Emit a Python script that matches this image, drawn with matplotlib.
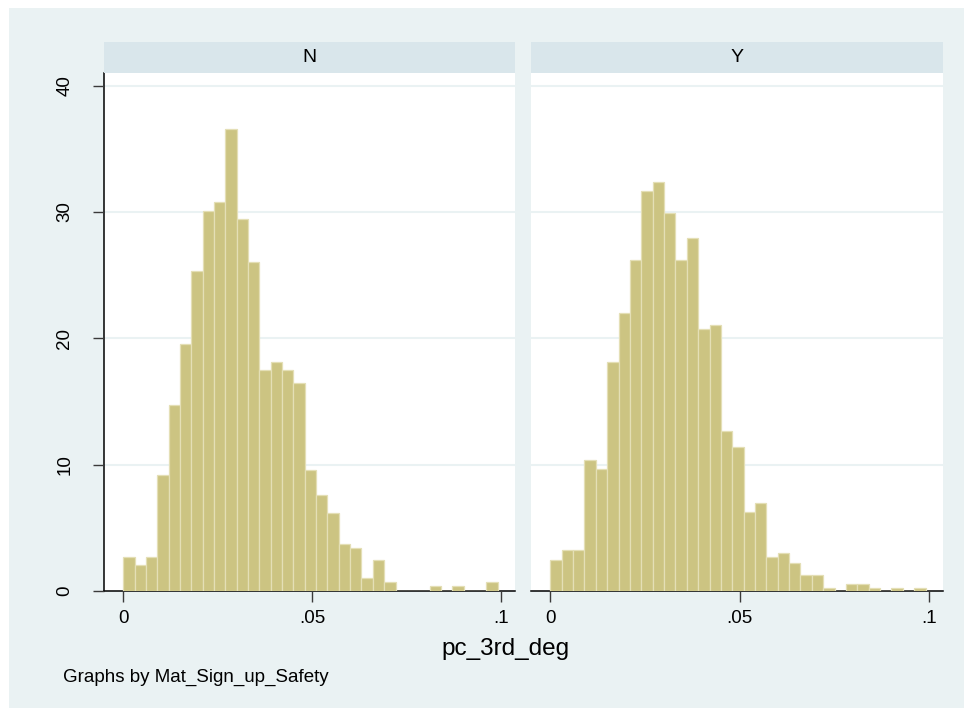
import matplotlib
matplotlib.use("Agg")
import matplotlib.pyplot as plt
from matplotlib.patches import Rectangle
import numpy as np

plt.rcParams['font.family'] = ['Liberation Sans', 'DejaVu Sans']

# Histogram densities of pc_3rd_deg by Mat_Sign_up_Safety
groups = ["N", "Y"]
bin_start = 0.0
bin_width = 0.003
density_N = [2.73, 2.04, 2.73, 9.22, 14.69, 19.52, 25.31, 30.08, 30.80, 36.57,
             29.41, 26.01, 17.48, 18.12, 17.48, 16.46, 9.60, 7.56, 6.17, 3.75,
             3.43, 1.05, 2.44, 0.71, 0, 0, 0, 0.36, 0, 0.36, 0, 0, 0.71]
density_Y = [2.49, 3.24, 3.24, 10.40, 9.65, 18.12, 22.01, 26.22, 31.66, 32.39,
             29.95, 26.22, 27.96, 20.75, 21.02, 12.63, 11.37, 6.22, 6.97, 2.73,
             2.98, 2.23, 1.23, 1.23, 0.27, 0, 0.53, 0.53, 0.27, 0, 0.27, 0, 0.27]
x_ticks = [0, 0.05, 0.1]
x_ticklabels = ["0", ".05", ".1"]
y_ticks = [0, 10, 20, 30, 40]
y_ticklabels = ["0", "10", "20", "30", "40"]
x_title = "pc_3rd_deg"
note = "Graphs by Mat_Sign_up_Safety"

W, H = 964, 708
BG = "#EAF2F3"
STRIP = "#D9E6EB"
BAR = "#CCC482"
BAR_EDGE = "#E4DFB6"
GRID = "#EAF2F3"
TICK = "#3a3a3a"
FS = 13.5

fig = plt.figure(figsize=(W / 100, H / 100), dpi=100, facecolor="white")

def px(x0, y0, x1, y1):
    """Pixel box (top-left origin) -> figure fraction [l, b, w, h]."""
    return [x0 / W, (H - y1) / H, (x1 - x0) / W, (y1 - y0) / H]

# graph region background
fig.patches.append(Rectangle((9 / W, 0), 1, (H - 8) / H, transform=fig.transFigure,
                             facecolor=BG, edgecolor="none", zorder=-10))

panels = [(104, 515), (531, 943)]
plot_top, plot_bot = 73.3, 591
strip_top = 42
data = {"N": density_N, "Y": density_Y}

for i, (g, (x0, x1)) in enumerate(zip(groups, panels)):
    ax = fig.add_axes(px(x0, plot_top, x1, plot_bot))
    ax.set_facecolor("white")
    vals = np.asarray(data[g])
    edges = bin_start + bin_width * np.arange(len(vals))
    ax.bar(edges, vals, width=bin_width, align="edge", color=BAR,
           edgecolor=BAR_EDGE, linewidth=0.9, zorder=3)
    for yv in y_ticks[1:]:
        ax.axhline(yv, color=GRID, linewidth=1.5, zorder=1)
    ax.set_xlim(-0.0051, 0.1036)
    ax.set_ylim(0, 40.98)
    ax.set_xticks(x_ticks)
    ax.set_xticklabels(x_ticklabels, fontsize=FS)
    ax.tick_params(axis="x", length=8, width=1, color=TICK, pad=6)
    for s in ("top", "right"):
        ax.spines[s].set_visible(False)
    ax.spines["bottom"].set_color("black")
    ax.spines["bottom"].set_linewidth(1.1)
    if i == 0:
        ax.spines["left"].set_color("black")
        ax.spines["left"].set_linewidth(1.1)
        ax.set_yticks(y_ticks)
        ax.set_yticklabels(y_ticklabels, fontsize=FS, rotation=90, va="center")
        ax.tick_params(axis="y", length=8, width=1, color=TICK, pad=14)
    else:
        ax.spines["left"].set_visible(False)
        ax.set_yticks([])
    ax.set_axisbelow(False)

    # strip header
    sax = fig.add_axes(px(x0, strip_top, x1, plot_top))
    sax.set_facecolor(STRIP)
    sax.set_xticks([]); sax.set_yticks([])
    for s in sax.spines.values():
        s.set_visible(False)
    sax.text(0.5, 0.5, g, ha="center", va="center", fontsize=14,
             transform=sax.transAxes)

fig.text(505.7 / W, (H - 649) / H, x_title, ha="center", va="center", fontsize=17.5)
fig.text(63 / W, (H - 681.7) / H, note, ha="left", va="baseline", fontsize=FS)

fig.savefig("out.png", dpi=100, facecolor="white")
